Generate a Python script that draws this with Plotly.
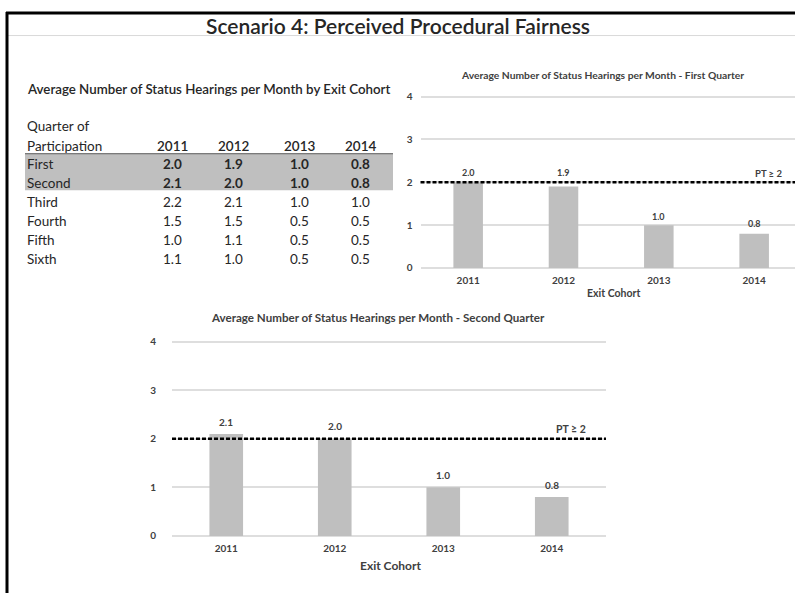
import plotly.graph_objects as go

W, H = 795, 597

# ---------------- data ----------------
years = ["2011", "2012", "2013", "2014"]
quarters = ["First", "Second", "Third", "Fourth", "Fifth", "Sixth"]
table_values = [
    [2.0, 1.9, 1.0, 0.8],
    [2.1, 2.0, 1.0, 0.8],
    [2.2, 2.1, 1.0, 1.0],
    [1.5, 1.5, 0.5, 0.5],
    [1.0, 1.1, 0.5, 0.5],
    [1.1, 1.0, 0.5, 0.5],
]
first_quarter = [2.0, 1.9, 1.0, 0.8]
second_quarter = [2.1, 2.0, 1.0, 0.8]
target = 2
target_label = "PT \u2265 2"
y_ticks = [0, 1, 2, 3, 4]

FONT = "Lato"
DARK = "#262626"
AX = "#404040"
BAR = "#bfbfbf"
GRID = "#dedede"


def px(x):
    return x / W


def py(y):
    return 1 - y / H


fig = go.Figure()

# ---------------- charts ----------------
charts = [
    dict(vals=first_quarter, xa="x", ya="y",
         x0=420.5, step=95.33, y0=267, unit=43.5, xend=795,
         title="Average Number of Status Hearings per Month - First Quarter",
         tx=602, ty=71, cx=613, cy=292, ptx=768, fs=10, tfs=10.3, cfs=10.5,
         lfs=9, standoff=7, lshift=[10, 14, 9, 10]),
    dict(vals=second_quarter, xa="x2", ya="y2",
         x0=172, step=108.5, y0=539, unit=49.25, xend=606,
         title="Average Number of Status Hearings per Month - Second Quarter",
         tx=378, ty=317, cx=390, cy=569, ptx=571, fs=10, tfs=11.6, cfs=12,
         lfs=10, standoff=15, lshift=[12.5, 12.5, 12, 12]),
]

annotations = []
shapes = []
for i, c in enumerate(charts):
    sfx = "" if i == 0 else "2"
    fig.add_trace(go.Bar(
        x=years, y=c["vals"], xaxis=c["xa"], yaxis=c["ya"],
        marker=dict(color=BAR, line=dict(width=0)), width=0.31,
        showlegend=False, hoverinfo="skip",
    ))
    for k, v in enumerate(c["vals"]):
        annotations.append(dict(text=f"{v:.1f}", x=k, y=v, xref="x" + sfx,
                                yref="y" + sfx, yshift=c["lshift"][k], showarrow=False,
                                xanchor="center", yanchor="middle",
                                font=dict(family=FONT, size=c["lfs"], color=AX, weight="bold")))
    lo, hi = -0.03, 4.03
    xr_end = -0.5 + (c["xend"] - c["x0"]) / c["step"]
    xd = [px(c["x0"]), px(c["xend"])]
    yd = [py(c["y0"] - lo * c["unit"]), py(c["y0"] - hi * c["unit"])]
    fig.update_layout(**{
        "xaxis" + sfx: dict(domain=xd, range=[-0.5, xr_end], type="category",
                            showgrid=False, zeroline=False, showline=False,
                            ticks="", fixedrange=True,
                            tickfont=dict(family=FONT, size=c["fs"], color=AX, weight="bold"),
                            anchor="y" + sfx, ticklabelstandoff=4),
        "yaxis" + sfx: dict(domain=yd, range=[lo, hi], tickvals=y_ticks,
                            showgrid=True, gridcolor=GRID, gridwidth=1.5,
                            zeroline=False, showline=False, ticks="", fixedrange=True,
                            tickfont=dict(family=FONT, size=c["fs"], color=AX, weight="bold"),
                            anchor="x" + sfx, ticklabelstandoff=c["standoff"]),
    })
    shapes.append(dict(type="line", xref="x" + sfx + " domain", yref="y" + sfx,
                       x0=0, x1=1, y0=target, y1=target,
                       line=dict(color="black", width=2.5, dash="4px,2px")))
    annotations.append(dict(text=c["title"], x=px(c["tx"]), y=py(c["ty"]),
                            xref="paper", yref="paper", showarrow=False,
                            xanchor="center", yanchor="middle",
                            font=dict(family=FONT, size=c["tfs"], color=AX, weight="bold")))
    annotations.append(dict(text="Exit Cohort", x=px(c["cx"]), y=py(c["cy"]),
                            xref="paper", yref="paper", showarrow=False,
                            xanchor="center", yanchor="middle",
                            font=dict(family=FONT, size=c["cfs"], color=AX, weight="bold")))
    annotations.append(dict(text=target_label, x=px(c["ptx"]), y=target,
                            xref="paper", yref="y" + sfx, yshift=c["unit"] * 0.21,
                            showarrow=False, xanchor="center", yanchor="middle",
                            font=dict(family=FONT, size=c["lfs"] + 0.5, color=AX, weight="bold")))

# ---------------- table ----------------
tbl_left, tbl_right = 25, 393
col_x = [172, 233, 299, 360]
row_y0, row_dy = 161.5, 19.3
TS = 13.5

shapes.append(dict(type="rect", xref="paper", yref="paper",
                   x0=px(tbl_left), x1=px(tbl_right), y0=py(151), y1=py(188),
                   fillcolor="#bfbfbf", line=dict(width=0), layer="below"))
shapes.append(dict(type="line", xref="paper", yref="paper",
                   x0=px(tbl_left), x1=px(tbl_right), y0=py(151), y1=py(151),
                   line=dict(color="#595959", width=1)))

annotations.append(dict(text="Average Number of Status Hearings per Month by Exit Cohort",
                        x=px(tbl_left), y=py(85), xref="paper", yref="paper",
                        showarrow=False, xanchor="left", yanchor="middle",
                        font=dict(family=FONT, size=13.3, color=DARK, weight=600)))
annotations.append(dict(text="Quarter of", x=px(tbl_left), y=py(123), xref="paper",
                        yref="paper", showarrow=False, xanchor="left", yanchor="middle",
                        font=dict(family=FONT, size=TS, color=DARK)))
annotations.append(dict(text="Participation", x=px(tbl_left), y=py(143), xref="paper",
                        yref="paper", showarrow=False, xanchor="left", yanchor="middle",
                        font=dict(family=FONT, size=TS, color=DARK)))
for j, yr in enumerate(years):
    annotations.append(dict(text=yr, x=px(col_x[j]), y=py(143), xref="paper",
                            yref="paper", showarrow=False, xanchor="center",
                            yanchor="middle", font=dict(family=FONT, size=TS, color=DARK, weight=600)))
for r, q in enumerate(quarters):
    yy = py(row_y0 + r * row_dy)
    annotations.append(dict(text=q, x=px(tbl_left), y=yy, xref="paper", yref="paper",
                            showarrow=False, xanchor="left", yanchor="middle",
                            font=dict(family=FONT, size=TS, color=DARK)))
    for j, v in enumerate(table_values[r]):
        annotations.append(dict(text=f"{v:.1f}", x=px(col_x[j]), y=yy, xref="paper",
                                yref="paper", showarrow=False, xanchor="center",
                                yanchor="middle",
                                font=dict(family=FONT, size=TS, color=DARK,
                                          weight="bold" if r < 2 else "normal")))

# ---------------- page title & frame ----------------
annotations.append(dict(text="Scenario 4: Perceived Procedural Fairness",
                        x=px(398), y=py(21), xref="paper", yref="paper",
                        showarrow=False, xanchor="center", yanchor="middle",
                        font=dict(family=FONT, size=21, color=DARK, weight=600)))
shapes.append(dict(type="line", xref="paper", yref="paper", x0=px(8), x1=1,
                   y0=py(31), y1=py(31), line=dict(color="#d9d9d9", width=1)))
shapes.append(dict(type="line", xref="paper", yref="paper", x0=px(6), x1=1,
                   y0=py(8), y1=py(8), line=dict(color="black", width=3)))
shapes.append(dict(type="line", xref="paper", yref="paper", x0=px(7), x1=px(7),
                   y0=py(7), y1=0, line=dict(color="black", width=3)))

fig.update_layout(
    width=W, height=H, margin=dict(l=0, r=0, t=0, b=0),
    paper_bgcolor="white", plot_bgcolor="white",
    annotations=annotations, shapes=shapes, showlegend=False,
    font=dict(family=FONT),
)
fig.write_html("out.html", config={"displayModeBar": False},
               post_script="document.body.style.margin='0';document.body.style.overflow='hidden';")
